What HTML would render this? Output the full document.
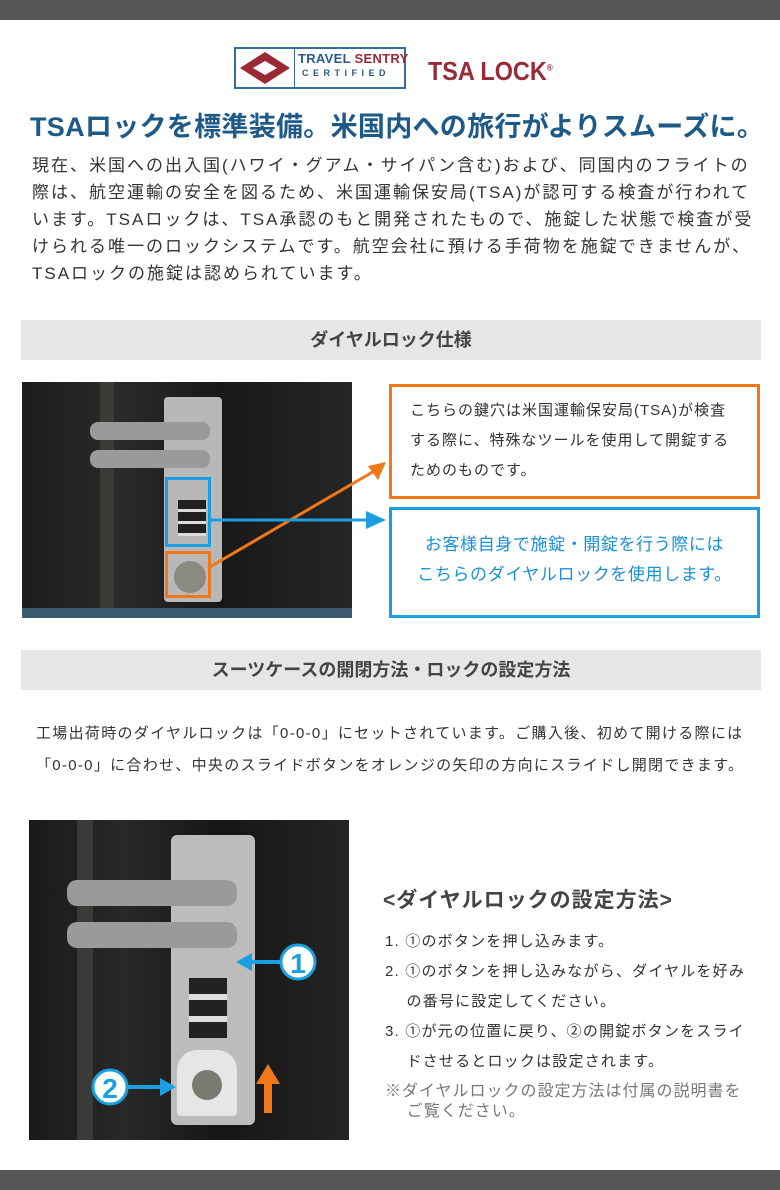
<!DOCTYPE html>
<html><head><meta charset="utf-8"><style>
*{margin:0;padding:0;box-sizing:border-box}
body{width:780px;height:1190px;background:#fff;position:relative;overflow:hidden;font-family:"Liberation Sans","Noto Sans CJK JP",sans-serif;color:#333}
.a{position:absolute}
.bar{left:0;width:780px;height:20px;background:#555}
.hd{left:21px;width:740px;height:40px;background:#e6e6e6;font-weight:bold;font-size:18px;color:#444;text-align:center;line-height:40px}
.p{font-size:17px;line-height:27px;white-space:nowrap;letter-spacing:2px}
.s{font-size:15px;line-height:30px;white-space:nowrap}
</style></head><body>
<div class="a bar" style="top:0"></div>
<div class="a bar" style="top:1170px"></div>
<!-- logo -->
<div class="a" style="left:234px;top:47px;width:172px;height:42px;border:2px solid #3a6a9a;background:#fff"></div>
<div class="a" style="left:294px;top:48px;width:1px;height:40px;background:#3a6a9a"></div>
<svg class="a" style="left:238px;top:50px" width="54" height="36"><polygon points="27,2 52,18 27,34 2,18" fill="#9a2a35"/><polygon points="27,11 39,18 27,25 15,18" fill="#fff"/></svg>
<div class="a" style="left:298px;top:51px;font-size:13px;font-weight:bold;color:#2a5a8a;letter-spacing:0.3px">TRAVEL <span style="color:#9a2a35">SENTRY</span></div>
<div class="a" style="left:302px;top:68px;font-size:9px;font-weight:bold;color:#2a5a8a;letter-spacing:4.5px">CERTIFIED</div>
<div class="a" style="left:428px;top:56px;font-size:26px;font-weight:bold;color:#9a2a35;transform:scaleX(0.9);transform-origin:left">TSA LOCK<sup style="font-size:9px">®</sup></div>
<div class="a" style="left:30px;top:105px;font-size:27px;font-weight:bold;color:#1e5a88;white-space:nowrap;letter-spacing:0.3px">TSAロックを標準装備。米国内への旅行がよりスムーズに。</div>
<div class="a p" style="left:32px;top:152px">現在、米国への出入国(ハワイ・グアム・サイパン含む)および、同国内のフライトの<br>際は、航空運輸の安全を図るため、米国運輸保安局(TSA)が認可する検査が行われて<br>います。TSAロックは、TSA承認のもと開発されたもので、施錠した状態で検査が受<br>けられる唯一のロックシステムです。航空会社に預ける手荷物を施錠できませんが、<br>TSAロックの施錠は認められています。</div>
<div class="a hd" style="top:320px">ダイヤルロック仕様</div>
<!-- photo1 -->
<div class="a" style="left:22px;top:382px;width:330px;height:236px;background:linear-gradient(90deg,#1c1c1c,#2a2a2a 30%,#181818 60%,#262626);overflow:hidden">
 <div class="a" style="left:78px;top:0;width:14px;height:236px;background:#3a3a36"></div>
 <div class="a" style="left:142px;top:15px;width:58px;height:205px;background:#b8b8b8;border-radius:4px"></div>
 <div class="a" style="left:68px;top:40px;width:120px;height:18px;background:#9a9a9a;border-radius:8px"></div>
 <div class="a" style="left:68px;top:68px;width:120px;height:18px;background:#9a9a9a;border-radius:8px"></div>
 <div class="a" style="left:156px;top:118px;width:28px;height:36px;background:repeating-linear-gradient(#222 0 9px,#ddd 9px 12px)"></div>
 <div class="a" style="left:152px;top:179px;width:32px;height:32px;background:#8a8a80;border-radius:50%"></div>
 <div class="a" style="left:0;top:226px;width:330px;height:10px;background:#3c5a70"></div>
</div>
<div class="a" style="left:165px;top:477px;width:46px;height:70px;border:3px solid #1aa0e0"></div>
<div class="a" style="left:165px;top:551px;width:46px;height:47px;border:3px solid #f07818"></div>
<svg class="a" style="left:0;top:0" width="780" height="640">
 <line x1="208" y1="568" x2="376" y2="470" stroke="#f07818" stroke-width="3"/>
 <polygon points="386,462 368,466 378,480" fill="#f07818"/>
 <line x1="211" y1="520" x2="370" y2="520" stroke="#1aa0e0" stroke-width="3"/>
 <polygon points="386,520 366,511 366,529" fill="#1aa0e0"/>
</svg>
<div class="a" style="left:389px;top:384px;width:371px;height:115px;border:3px solid #f07818"></div>
<div class="a s" style="left:410px;top:396px;color:#333;letter-spacing:1px">こちらの鍵穴は米国運輸保安局(TSA)が検査<br>する際に、特殊なツールを使用して開錠する<br>ためのものです。</div>
<div class="a" style="left:389px;top:507px;width:371px;height:111px;border:3px solid #1aa0e0"></div>
<div class="a" style="left:389px;top:530px;width:371px;text-align:center;font-size:17px;line-height:30px;color:#1a90d8;letter-spacing:0.6px">お客様自身で施錠・開錠を行う際には<br>こちらのダイヤルロックを使用します。</div>
<div class="a hd" style="top:650px">スーツケースの開閉方法・ロックの設定方法</div>
<div class="a" style="left:36px;top:718px;font-size:15px;line-height:32px;white-space:nowrap;letter-spacing:1.3px">工場出荷時のダイヤルロックは「0-0-0」にセットされています。ご購入後、初めて開ける際には<br>「0-0-0」に合わせ、中央のスライドボタンをオレンジの矢印の方向にスライドし開閉できます。</div>
<!-- photo2 -->
<div class="a" style="left:29px;top:820px;width:320px;height:320px;background:linear-gradient(90deg,#1a1a1a,#282828 30%,#161616 60%,#242424);overflow:hidden">
 <div class="a" style="left:48px;top:0;width:16px;height:320px;background:#3a3a36"></div>
 <div class="a" style="left:142px;top:15px;width:84px;height:290px;background:#bcbcbc;border-radius:6px"></div>
 <div class="a" style="left:38px;top:60px;width:170px;height:26px;background:#9a9a9a;border-radius:10px"></div>
 <div class="a" style="left:38px;top:102px;width:170px;height:26px;background:#9a9a9a;border-radius:10px"></div>
 <div class="a" style="left:160px;top:158px;width:38px;height:60px;background:repeating-linear-gradient(#222 0 16px,#ddd 16px 22px)"></div>
 <div class="a" style="left:148px;top:230px;width:60px;height:66px;background:#e6e6e6;border-radius:20px 20px 4px 4px"></div>
 <div class="a" style="left:163px;top:250px;width:30px;height:30px;background:#7a7a70;border-radius:50%"></div>
</div>
<svg class="a" style="left:0;top:800px" width="360" height="360">
 <line x1="248" y1="162" x2="280" y2="162" stroke="#1aa0e0" stroke-width="4"/>
 <polygon points="236,162 252,153 252,171" fill="#1aa0e0"/>
 <circle cx="298" cy="162" r="17" fill="#fff" stroke="#1aa0e0" stroke-width="3"/>
 <text x="298" y="173" text-anchor="middle" font-size="28" font-weight="bold" fill="#1aa0e0" font-family="Liberation Sans,sans-serif">1</text>
 <circle cx="110" cy="287" r="17" fill="#fff" stroke="#1aa0e0" stroke-width="3"/>
 <text x="110" y="298" text-anchor="middle" font-size="28" font-weight="bold" fill="#1aa0e0" font-family="Liberation Sans,sans-serif">2</text>
 <line x1="128" y1="287" x2="162" y2="287" stroke="#1aa0e0" stroke-width="4"/>
 <polygon points="176,287 160,278 160,296" fill="#1aa0e0"/>
 <line x1="268" y1="313" x2="268" y2="282" stroke="#f07818" stroke-width="8"/>
 <polygon points="268,264 256,284 280,284" fill="#f07818"/>
</svg>
<div class="a" style="left:383px;top:884px;font-size:21px;font-weight:bold;color:#444;white-space:nowrap;letter-spacing:1px">&lt;ダイヤルロックの設定方法&gt;</div>
<div class="a s" style="left:385px;top:927px;letter-spacing:1.2px">1. ①のボタンを押し込みます。<br>2. ①のボタンを押し込みながら、ダイヤルを好み<br>&nbsp;&nbsp;&nbsp;&nbsp;の番号に設定してください。<br>3. ①が元の位置に戻り、②の開錠ボタンをスライ<br>&nbsp;&nbsp;&nbsp;&nbsp;ドさせるとロックは設定されます。</div>
<div class="a" style="left:385px;top:1082px;font-size:16px;line-height:20px;color:#777;white-space:nowrap;letter-spacing:1px">※ダイヤルロックの設定方法は付属の説明書を<br>&nbsp;&nbsp;&nbsp;&nbsp;ご覧ください。</div>
</body></html>
